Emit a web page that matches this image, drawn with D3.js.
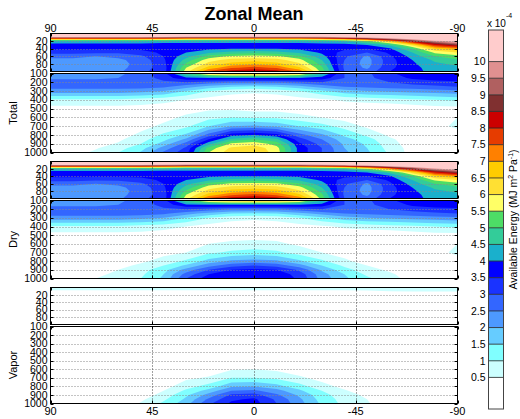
<!DOCTYPE html>
<html>
<head>
<meta charset="utf-8">
<script src="https://cdn.jsdelivr.net/npm/d3@7"></script>
<style>
  body { margin: 0; background: #fff; }
  text { font-family: "Liberation Sans", Arial, sans-serif; fill: #000; }
</style>
</head>
<body>
<div id="chart"></div>
<script>
// grid: latitude columns (90N -> 90S), each column lists values for the pressure rows
const lats = [90, 80, 70, 60, 50, 40, 30, 20, 10, 0, -10, -20, -30, -40, -50, -60, -70, -80, -90];
const upperLevels = [0, 5, 10, 15, 20, 30, 40, 50, 60, 70, 80, 90, 100];
const lowerLevels = [100, 150, 200, 250, 300, 400, 500, 600, 700, 800, 850, 900, 950, 1000];

const latTicks = [90, 45, 0, -45, -90];
const upperTicks = [20, 40, 60, 80];
const lowerTicks = [100, 200, 300, 400, 500, 600, 700, 800, 900, 1000];

const thresholds = [0.5, 1, 1.5, 2, 2.5, 3, 3.5, 4, 4.5, 5, 5.5, 6, 6.5, 7, 7.5, 8, 8.5, 9, 9.5, 10];
const cbarLabels = ['0.5', '1', '1.5', '2', '2.5', '3', '3.5', '4', '4.5', '5', '5.5', '6', '6.5', '7', '7.5', '8', '8.5', '9', '9.5', '10'];
const cbarLimits = [-0.45, 10.95];
const palette = [
  '#ffffff', '#ccffff', '#80ffff', '#66ccff', '#4d99ff', '#3366ff', '#1a33ff', '#0000ff',
  '#1ab0cc', '#33cc99', '#4ddd66', '#ffff66', '#ffe033', '#ffcc00', '#ff8000', '#e63c00',
  '#cc0000', '#803030', '#b06060', '#e09090', '#ffcccc',
];

// units of 1e-4 MJ m^2 Pa^-1
const totalUpper = [
  [13, 11.5, 9.8, 6.5, 4.3, 3.8, 3.6, 3.2, 2.6, 2.4, 2.3, 2.3, 2.3],
  [13, 11.5, 9.8, 6.5, 4.3, 3.8, 3.6, 3.2, 2.6, 2.4, 2.3, 2.3, 2.3],
  [13, 11.5, 9.8, 6.5, 4.3, 3.8, 3.6, 3.1, 2.5, 2.3, 2.2, 2.2, 2.2],
  [13, 11.5, 9.8, 6.5, 4.3, 3.8, 3.6, 3.1, 2.6, 2.4, 2.3, 2.3, 2.4],
  [13, 11.5, 9.8, 6.4, 4.3, 3.8, 3.6, 3.3, 2.9, 2.7, 2.7, 2.8, 2.9],
  [13, 11.4, 9.6, 6.3, 4.2, 3.8, 3.7, 3.6, 3.5, 3.4, 3.3, 3.2, 3.2],
  [13, 11.2, 9.4, 6.0, 4.2, 3.8, 3.8, 4.0, 4.3, 4.7, 5.1, 5.5, 5.8],
  [13, 11.2, 9.4, 6.0, 4.2, 3.8, 3.9, 4.4, 5.2, 5.8, 6.2, 6.7, 7.6],
  [13, 11.2, 9.4, 6.0, 4.2, 3.8, 4.0, 4.7, 5.6, 6.2, 6.7, 7.4, 8.3],
  [13, 11.2, 9.4, 6.0, 4.2, 3.8, 4.0, 4.8, 5.7, 6.3, 6.9, 7.7, 8.5],
  [13, 11.2, 9.4, 6.0, 4.2, 3.8, 4.0, 4.7, 5.6, 6.2, 6.7, 7.4, 8.3],
  [13, 11.2, 9.4, 6.0, 4.2, 3.8, 3.9, 4.4, 5.1, 5.7, 6.1, 6.6, 7.4],
  [13, 11.3, 9.6, 6.3, 4.3, 3.8, 3.8, 3.9, 4.2, 4.5, 4.8, 5.1, 5.3],
  [13, 11.5, 9.9, 6.8, 4.5, 3.8, 3.6, 3.3, 3.1, 3.0, 2.9, 2.9, 3.0],
  [13, 11.8, 10.4, 7.8, 5.3, 4.0, 3.5, 3.0, 2.4, 2.3, 2.3, 2.4, 2.7],
  [13, 12.0, 11.0, 9.0, 6.8, 4.6, 3.9, 3.6, 3.4, 3.3, 3.3, 3.4, 3.5],
  [13, 12.0, 11.2, 10.0, 8.6, 6.2, 5.0, 4.5, 4.2, 4.0, 3.9, 3.8, 3.8],
  [13, 12.0, 11.4, 10.6, 9.8, 8.0, 6.5, 5.6, 5.0, 4.6, 4.4, 4.3, 4.2],
  [13, 12.0, 11.5, 10.8, 10.3, 8.8, 7.0, 6.0, 5.3, 4.9, 4.6, 4.4, 4.3],
];

const totalLower = [
  [2.3, 2.4, 2.7, 2.7, 2.3, 0.9, 0.3, 0.1, 0, 0, 0, 0, 0, 0],
  [2.3, 2.4, 2.7, 2.7, 2.3, 0.9, 0.3, 0.1, 0, 0, 0, 0.1, 0.2, 0.3],
  [2.3, 2.4, 2.7, 2.7, 2.3, 0.9, 0.3, 0.1, 0, 0.1, 0.2, 0.3, 0.45, 0.6],
  [2.4, 2.5, 2.7, 2.7, 2.3, 0.9, 0.3, 0.1, 0.1, 0.3, 0.4, 0.55, 0.8, 1.0],
  [2.7, 2.7, 2.8, 2.7, 2.2, 0.8, 0.3, 0.15, 0.35, 0.6, 0.8, 1.0, 1.3, 1.55],
  [3.3, 3.2, 2.9, 2.6, 2.0, 0.7, 0.2, 0.35, 0.6, 1.1, 1.35, 1.7, 2.2, 2.6],
  [5.0, 3.9, 3.0, 2.2, 1.5, 0.5, 0.3, 0.6, 0.9, 1.6, 2.1, 2.7, 3.1, 3.3],
  [6.2, 4.0, 2.8, 1.8, 1.0, 0.3, 0.4, 0.85, 1.5, 2.7, 3.5, 4.3, 5.2, 5.5],
  [6.7, 4.0, 2.6, 1.5, 0.7, 0.2, 0.4, 1.0, 2.0, 3.8, 4.6, 5.6, 6.1, 6.3],
  [6.8, 4.0, 2.6, 1.4, 0.6, 0.2, 0.3, 0.9, 2.1, 4.0, 5.0, 5.8, 6.3, 6.4],
  [6.7, 4.0, 2.6, 1.5, 0.7, 0.2, 0.3, 0.9, 1.9, 3.7, 4.6, 5.3, 5.7, 5.8],
  [6.2, 4.0, 2.8, 1.8, 1.0, 0.3, 0.2, 0.7, 1.5, 2.7, 3.2, 3.6, 3.8, 3.8],
  [4.6, 3.8, 3.0, 2.2, 1.4, 0.4, 0.1, 0.5, 1.2, 2.1, 2.5, 2.8, 3.0, 3.0],
  [3.0, 3.0, 2.9, 2.5, 1.8, 0.6, 0.1, 0.3, 0.8, 1.4, 1.7, 1.9, 2.0, 2.1],
  [2.9, 2.9, 2.9, 2.6, 2.0, 0.7, 0.1, 0.1, 0.4, 0.9, 1.2, 1.4, 1.5, 1.6],
  [3.4, 3.2, 3.0, 2.7, 2.1, 0.8, 0.1, 0, 0.15, 0.4, 0.6, 0.7, 0.8, 0.9],
  [3.8, 3.6, 3.2, 2.8, 2.2, 0.9, 0.2, 0, 0, 0.1, 0.2, 0.25, 0.3, 0.3],
  [3.9, 3.8, 3.3, 2.9, 2.3, 1.0, 0.3, 0.3, 0.35, 0.2, 0.1, 0, 0, 0],
  [3.9, 3.8, 3.4, 3.0, 2.4, 1.1, 0.3, 0.5, 0.6, 0.3, 0.1, 0, 0, 0],
];

const dryUpper = [
  [13, 11.5, 9.8, 6.5, 4.3, 3.8, 3.6, 3.2, 2.6, 2.4, 2.3, 2.3, 2.3],
  [13, 11.5, 9.8, 6.5, 4.3, 3.8, 3.6, 3.2, 2.6, 2.4, 2.3, 2.3, 2.3],
  [13, 11.5, 9.8, 6.5, 4.3, 3.8, 3.6, 3.1, 2.5, 2.3, 2.2, 2.2, 2.2],
  [13, 11.5, 9.8, 6.5, 4.3, 3.8, 3.6, 3.1, 2.6, 2.4, 2.3, 2.3, 2.4],
  [13, 11.5, 9.8, 6.4, 4.3, 3.8, 3.6, 3.3, 2.9, 2.7, 2.7, 2.8, 2.9],
  [13, 11.4, 9.6, 6.3, 4.2, 3.8, 3.7, 3.6, 3.5, 3.4, 3.3, 3.2, 3.2],
  [13, 11.2, 9.4, 6.0, 4.2, 3.8, 3.8, 4.0, 4.3, 4.7, 5.1, 5.5, 5.8],
  [13, 11.2, 9.4, 6.0, 4.2, 3.8, 3.9, 4.4, 5.2, 5.8, 6.2, 6.7, 7.6],
  [13, 11.2, 9.4, 6.0, 4.2, 3.8, 4.0, 4.7, 5.6, 6.2, 6.7, 7.4, 8.3],
  [13, 11.2, 9.4, 6.0, 4.2, 3.8, 4.0, 4.8, 5.7, 6.3, 6.9, 7.7, 8.5],
  [13, 11.2, 9.4, 6.0, 4.2, 3.8, 4.0, 4.7, 5.6, 6.2, 6.7, 7.4, 8.3],
  [13, 11.2, 9.4, 6.0, 4.2, 3.8, 3.9, 4.4, 5.1, 5.7, 6.1, 6.6, 7.4],
  [13, 11.3, 9.6, 6.3, 4.3, 3.8, 3.8, 3.9, 4.2, 4.5, 4.8, 5.1, 5.3],
  [13, 11.5, 9.9, 6.8, 4.5, 3.8, 3.6, 3.3, 3.1, 3.0, 2.9, 2.9, 3.0],
  [13, 11.8, 10.4, 7.8, 5.3, 4.0, 3.5, 3.0, 2.4, 2.3, 2.3, 2.4, 2.7],
  [13, 12.0, 11.0, 9.0, 6.8, 4.6, 3.9, 3.6, 3.4, 3.3, 3.3, 3.4, 3.5],
  [13, 12.0, 11.2, 10.0, 8.6, 6.2, 5.0, 4.5, 4.2, 4.0, 3.9, 3.8, 3.8],
  [13, 12.0, 11.4, 10.6, 9.8, 8.0, 6.5, 5.6, 5.0, 4.6, 4.4, 4.3, 4.2],
  [13, 12.0, 11.5, 10.8, 10.3, 8.8, 7.0, 6.0, 5.3, 4.9, 4.6, 4.4, 4.3],
];

const dryLower = [
  [2.3, 2.4, 2.7, 2.7, 2.3, 0.9, 0.3, 0.1, 0, 0, 0, 0, 0, 0],
  [2.3, 2.4, 2.7, 2.7, 2.3, 0.9, 0.3, 0.1, 0, 0, 0, 0, 0.05, 0.1],
  [2.3, 2.4, 2.7, 2.7, 2.3, 0.9, 0.3, 0.1, 0, 0.1, 0.2, 0.3, 0.4, 0.5],
  [2.4, 2.5, 2.7, 2.7, 2.3, 0.9, 0.3, 0.1, 0.1, 0.2, 0.35, 0.5, 0.6, 0.7],
  [2.7, 2.7, 2.8, 2.7, 2.2, 0.8, 0.3, 0.1, 0.2, 0.4, 0.6, 0.8, 0.9, 1.0],
  [3.3, 3.2, 2.9, 2.6, 2.0, 0.7, 0.2, 0.2, 0.35, 0.7, 1.0, 1.3, 1.5, 1.6],
  [5.0, 3.9, 3.0, 2.2, 1.5, 0.5, 0.3, 0.3, 0.5, 1.1, 1.6, 2.2, 2.7, 3.0],
  [6.2, 4.0, 2.8, 1.8, 1.0, 0.3, 0.3, 0.5, 0.9, 1.7, 2.3, 3.0, 3.5, 3.8],
  [6.7, 4.0, 2.6, 1.5, 0.7, 0.2, 0.3, 0.6, 1.1, 2.1, 2.8, 3.5, 3.8, 3.9],
  [6.8, 4.0, 2.6, 1.4, 0.6, 0.2, 0.3, 0.65, 1.2, 2.2, 3.0, 3.6, 3.85, 3.9],
  [6.7, 4.0, 2.6, 1.5, 0.7, 0.2, 0.3, 0.6, 1.1, 2.1, 2.8, 3.5, 3.8, 3.9],
  [6.2, 4.0, 2.8, 1.8, 1.0, 0.3, 0.2, 0.4, 0.8, 1.6, 2.2, 2.9, 3.3, 3.4],
  [4.6, 3.8, 3.0, 2.2, 1.4, 0.4, 0.1, 0.2, 0.5, 1.1, 1.5, 1.9, 2.2, 2.3],
  [3.0, 3.0, 2.9, 2.5, 1.8, 0.6, 0.1, 0.1, 0.3, 0.6, 0.9, 1.2, 1.5, 1.6],
  [2.9, 2.9, 2.9, 2.6, 2.0, 0.7, 0.1, 0, 0.1, 0.3, 0.5, 0.7, 0.9, 1.1],
  [3.4, 3.2, 3.0, 2.7, 2.1, 0.8, 0.1, 0, 0, 0.1, 0.2, 0.4, 0.6, 0.7],
  [3.8, 3.6, 3.2, 2.8, 2.2, 0.9, 0.2, 0, 0, 0, 0, 0.1, 0.2, 0.3],
  [3.9, 3.8, 3.3, 2.9, 2.3, 1.0, 0.3, 0.3, 0.35, 0.2, 0.1, 0, 0, 0],
  [3.9, 3.8, 3.4, 3.0, 2.4, 1.1, 0.3, 0.5, 0.6, 0.3, 0.1, 0, 0, 0],
];

const vaporUpper = [
  [0.8, 0.6, 0.4, 0.2, 0.1, 0, 0, 0, 0, 0, 0, 0, 0],
  [0.8, 0.6, 0.4, 0.2, 0.1, 0, 0, 0, 0, 0, 0, 0, 0],
  [0.8, 0.6, 0.4, 0.2, 0.1, 0, 0, 0, 0, 0, 0, 0, 0],
  [0.8, 0.6, 0.4, 0.2, 0.1, 0, 0, 0, 0, 0, 0, 0, 0],
  [0.8, 0.6, 0.4, 0.2, 0.1, 0, 0, 0, 0, 0, 0, 0, 0],
  [0.8, 0.6, 0.4, 0.2, 0.1, 0, 0, 0, 0, 0, 0, 0, 0],
  [0.8, 0.6, 0.4, 0.2, 0.1, 0, 0, 0, 0, 0, 0, 0, 0],
  [0.8, 0.6, 0.4, 0.2, 0.1, 0, 0, 0, 0, 0, 0, 0, 0],
  [0.8, 0.6, 0.4, 0.2, 0.1, 0, 0, 0, 0, 0, 0, 0, 0],
  [0.8, 0.6, 0.4, 0.2, 0.1, 0, 0, 0, 0, 0, 0, 0, 0],
  [0.8, 0.6, 0.4, 0.2, 0.1, 0, 0, 0, 0, 0, 0, 0, 0],
  [0.8, 0.6, 0.4, 0.2, 0.1, 0, 0, 0, 0, 0, 0, 0, 0],
  [0.8, 0.6, 0.4, 0.2, 0.1, 0, 0, 0, 0, 0, 0, 0, 0],
  [0.8, 0.6, 0.4, 0.2, 0.1, 0, 0, 0, 0, 0, 0, 0, 0],
  [0.8, 0.6, 0.45, 0.25, 0.1, 0, 0, 0, 0, 0, 0, 0, 0],
  [0.9, 0.7, 0.5, 0.3, 0.1, 0, 0, 0, 0, 0, 0, 0, 0],
  [0.9, 0.7, 0.55, 0.3, 0.1, 0, 0, 0, 0, 0, 0, 0, 0],
  [0.9, 0.7, 0.55, 0.3, 0.1, 0, 0, 0, 0, 0, 0, 0, 0],
  [0.9, 0.7, 0.55, 0.3, 0.1, 0, 0, 0, 0, 0, 0, 0, 0],
];

const vaporLower = [
  [0, 0, 0, 0, 0, 0, 0, 0, 0, 0, 0, 0, 0, 0],
  [0, 0, 0, 0, 0, 0, 0, 0, 0, 0, 0, 0, 0, 0],
  [0, 0, 0, 0, 0, 0, 0, 0, 0, 0, 0, 0, 0, 0],
  [0, 0, 0, 0, 0, 0, 0, 0, 0, 0, 0, 0, 0, 0.1],
  [0, 0, 0, 0, 0, 0, 0, 0, 0, 0, 0.1, 0.2, 0.4, 0.55],
  [0, 0, 0, 0, 0, 0, 0, 0, 0.05, 0.3, 0.5, 0.7, 0.9, 1.1],
  [0, 0, 0, 0, 0, 0, 0, 0.1, 0.4, 0.8, 1.1, 1.4, 1.6, 1.8],
  [0, 0, 0, 0, 0, 0, 0, 0.2, 0.55, 1.2, 1.7, 2.2, 2.6, 2.9],
  [0, 0, 0, 0, 0, 0, 0.05, 0.45, 1.0, 1.9, 2.5, 3.1, 3.4, 3.6],
  [0, 0, 0, 0, 0, 0, 0.1, 0.5, 1.0, 2.0, 2.6, 3.2, 3.6, 3.7],
  [0, 0, 0, 0, 0, 0, 0.05, 0.4, 0.9, 1.7, 2.2, 2.6, 2.9, 3.0],
  [0, 0, 0, 0, 0, 0, 0, 0.2, 0.6, 1.2, 1.6, 1.9, 2.1, 2.2],
  [0, 0, 0, 0, 0, 0, 0, 0.05, 0.3, 0.7, 1.0, 1.2, 1.3, 1.4],
  [0, 0, 0, 0, 0, 0, 0, 0, 0.1, 0.35, 0.55, 0.7, 0.8, 0.85],
  [0, 0, 0, 0, 0, 0, 0, 0, 0, 0.1, 0.25, 0.4, 0.5, 0.55],
  [0, 0, 0, 0, 0, 0, 0, 0, 0, 0, 0, 0.1, 0.15, 0.2],
  [0, 0, 0, 0, 0, 0, 0, 0, 0, 0, 0, 0, 0, 0],
  [0, 0, 0, 0, 0, 0, 0, 0, 0, 0, 0, 0, 0, 0],
  [0, 0, 0, 0, 0, 0, 0, 0, 0, 0, 0, 0, 0, 0],
];

const panelNames = ['Total', 'Dry', 'Vapor'];

const makePlot = () => {
  const container = d3.select('#chart');
  container.selectAll('*').remove();

  const size = { width: 520, height: 419 };
  const svg = container.append('svg').attr('width', size.width).attr('height', size.height);

  const x = d3.scaleLinear().domain([90, -90]).range([50.5, 457.5]);
  const color = d3.scaleThreshold().domain(thresholds).range(palette);

  // each panel: upper (0-100 hPa) and lower (100-1000 hPa) box, half-pixel edges
  const boxes = [
    { upper: [33.5, 71.5], lower: [73.5, 152.5] },
    { upper: [161.5, 198.5], lower: [200.5, 278.5] },
    { upper: [287.5, 324.5], lower: [326.5, 403.5] },
  ];
  const fields = [
    [totalUpper, totalLower],
    [dryUpper, dryLower],
    [vaporUpper, vaporLower],
  ];

  let clipCount = 0;

  const drawBox = (cols, levels, y, ticks, tickLabels) => {
    const nx = cols.length;
    const ny = levels.length;
    const values = new Array(nx * ny);
    for (let j = 0; j < ny; j += 1) {
      for (let i = 0; i < nx; i += 1) values[j * nx + i] = cols[i][j];
    }

    // contour grid coords -> lat / pressure (sample i sits at i + 0.5)
    const gx = d3.scaleLinear().domain([0.5, nx - 0.5]).range([lats[0], lats[nx - 1]]).clamp(true);
    const gy = d3.scaleLinear().domain(levels.map((_, j) => j + 0.5)).range(levels).clamp(true);
    const proj = d3.geoTransform({
      point(px, py) { this.stream.point(x(gx(px)), y(gy(py))); },
    });
    const path = d3.geoPath(proj);

    const [y0, y1] = y.range();
    const id = `clip${clipCount}`;
    clipCount += 1;
    svg.append('clipPath').attr('id', id)
      .append('rect').attr('x', x(90)).attr('y', y0).attr('width', x(-90) - x(90)).attr('height', y1 - y0);

    const g = svg.append('g').attr('clip-path', `url(#${id})`);
    g.append('rect')
      .attr('x', x(90)).attr('y', y0)
      .attr('width', x(-90) - x(90)).attr('height', y1 - y0)
      .attr('fill', palette[0]);

    const contours = d3.contours().size([nx, ny]).thresholds(thresholds)(values);
    g.selectAll('path.band')
      .data(contours)
      .join('path')
      .attr('class', 'band')
      .attr('d', path)
      .attr('fill', (d) => color(d.value));

    // grid
    const grid = svg.append('g');
    grid.selectAll('line.hg')
      .data(ticks.filter((t) => y(t) > y0 + 0.5 && y(t) < y1 - 0.5))
      .join('line')
      .attr('x1', x(90)).attr('x2', x(-90))
      .attr('y1', (d) => Math.round(y(d)) + 0.5).attr('y2', (d) => Math.round(y(d)) + 0.5)
      .attr('stroke', '#888')
      .attr('stroke-width', 1)
      .attr('stroke-dasharray', '1,2');
    grid.selectAll('line.vg')
      .data(latTicks.slice(1, -1))
      .join('line')
      .attr('x1', (d) => Math.round(x(d)) + 0.5).attr('x2', (d) => Math.round(x(d)) + 0.5)
      .attr('y1', y0).attr('y2', y1)
      .attr('stroke', '#444')
      .attr('stroke-width', 1)
      .attr('stroke-dasharray', '1,2');

    // ticks
    grid.selectAll('line.yt')
      .data(ticks)
      .join('line')
      .attr('x1', x(90)).attr('x2', x(90) + 3)
      .attr('y1', (d) => Math.round(y(d)) + 0.5).attr('y2', (d) => Math.round(y(d)) + 0.5)
      .attr('stroke', '#000');
    grid.selectAll('line.yt2')
      .data(ticks)
      .join('line')
      .attr('x1', x(-90)).attr('x2', x(-90) - 3)
      .attr('y1', (d) => Math.round(y(d)) + 0.5).attr('y2', (d) => Math.round(y(d)) + 0.5)
      .attr('stroke', '#000');
    grid.selectAll('line.xt')
      .data(latTicks)
      .join('line')
      .attr('x1', (d) => Math.round(x(d)) + 0.5).attr('x2', (d) => Math.round(x(d)) + 0.5)
      .attr('y1', y1).attr('y2', y1 - 3)
      .attr('stroke', '#000');
    grid.selectAll('line.xt2')
      .data(latTicks)
      .join('line')
      .attr('x1', (d) => Math.round(x(d)) + 0.5).attr('x2', (d) => Math.round(x(d)) + 0.5)
      .attr('y1', y0).attr('y2', y0 + 3)
      .attr('stroke', '#000');

    svg.append('rect')
      .attr('x', x(90)).attr('y', y0)
      .attr('width', x(-90) - x(90)).attr('height', y1 - y0)
      .attr('fill', 'none')
      .attr('stroke', '#000')
      .attr('stroke-width', 1);

    svg.append('g').selectAll('text')
      .data(tickLabels)
      .join('text')
      .text((d) => d)
      .attr('x', x(90) - 3)
      .attr('y', (d) => y(d) + 3.6)
      .attr('text-anchor', 'end')
      .style('font-size', '10.5px');
  };

  boxes.forEach((b, k) => {
    const yu = d3.scaleLinear().domain([0, 100]).range(b.upper);
    const yl = d3.scaleLinear().domain([100, 1000]).range(b.lower);
    drawBox(fields[k][0], upperLevels, yu, upperTicks, upperTicks);
    drawBox(fields[k][1], lowerLevels, yl, lowerTicks, lowerTicks);

    svg.append('text')
      .text(panelNames[k])
      .attr('transform', `translate(17,${(b.lower[0] + b.lower[1]) / 2}) rotate(-90)`)
      .attr('text-anchor', 'middle')
      .style('font-size', '11px');
  });

  // lat labels top and bottom
  svg.append('g').selectAll('text')
    .data(latTicks)
    .join('text')
    .text((d) => d)
    .attr('x', (d) => x(d))
    .attr('y', 32)
    .attr('text-anchor', 'middle')
    .style('font-size', '11px');
  svg.append('g').selectAll('text')
    .data(latTicks)
    .join('text')
    .text((d) => d)
    .attr('x', (d) => x(d))
    .attr('y', 415)
    .attr('text-anchor', 'middle')
    .style('font-size', '11px');

  svg.append('text')
    .text('Zonal Mean')
    .attr('x', (x(90) + x(-90)) / 2)
    .attr('y', 20)
    .attr('text-anchor', 'middle')
    .style('font-size', '18px')
    .style('font-weight', 'bold');

  /**
   * Colorbar
   */
  const cb = svg.append('g');
  const cy = d3.scaleLinear().domain(cbarLimits).range([409, 30]);
  const cbX = 488.5;
  const cbW = 15;
  const bands = palette.map((c, i) => ({
    lo: i === 0 ? cbarLimits[0] : thresholds[i - 1],
    hi: i === palette.length - 1 ? cbarLimits[1] : thresholds[i],
    c,
  }));
  cb.selectAll('rect.cbar')
    .data(bands)
    .join('rect')
    .attr('x', cbX)
    .attr('y', (d) => cy(d.hi))
    .attr('width', cbW)
    .attr('height', (d) => cy(d.lo) - cy(d.hi))
    .attr('fill', (d) => d.c);
  cb.selectAll('line.sep')
    .data(thresholds)
    .join('line')
    .attr('x1', cbX).attr('x2', cbX + cbW)
    .attr('y1', (d) => cy(d)).attr('y2', (d) => cy(d))
    .attr('stroke', '#222')
    .attr('stroke-width', 0.8);
  cb.append('rect')
    .attr('x', cbX).attr('y', cy(cbarLimits[1]))
    .attr('width', cbW).attr('height', cy(cbarLimits[0]) - cy(cbarLimits[1]))
    .attr('fill', 'none')
    .attr('stroke', '#444');
  cb.selectAll('text.cl')
    .data(thresholds)
    .join('text')
    .text((d, i) => cbarLabels[i])
    .attr('x', cbX - 3)
    .attr('y', (d) => cy(d) + 3.8)
    .attr('text-anchor', 'end')
    .style('font-size', '10.5px');

  const ex = cb.append('text').attr('x', 487).attr('y', 27).style('font-size', '10px');
  ex.append('tspan').text('x 10');
  ex.append('tspan').text('-4').attr('dy', -9).style('font-size', '7px');

  const lab = cb.append('text')
    .attr('transform', `translate(517,${(cy(cbarLimits[0]) + cy(cbarLimits[1])) / 2}) rotate(-90)`)
    .attr('text-anchor', 'middle')
    .style('font-size', '10.5px');
  lab.append('tspan').text('Available Energy (MJ m');
  lab.append('tspan').text('2').attr('dy', -4).style('font-size', '7px');
  lab.append('tspan').text(' Pa').attr('dy', 4);
  lab.append('tspan').text('-1').attr('dy', -4).style('font-size', '7px');
  lab.append('tspan').text(')').attr('dy', 4);
};

makePlot();
</script>
</body>
</html>
